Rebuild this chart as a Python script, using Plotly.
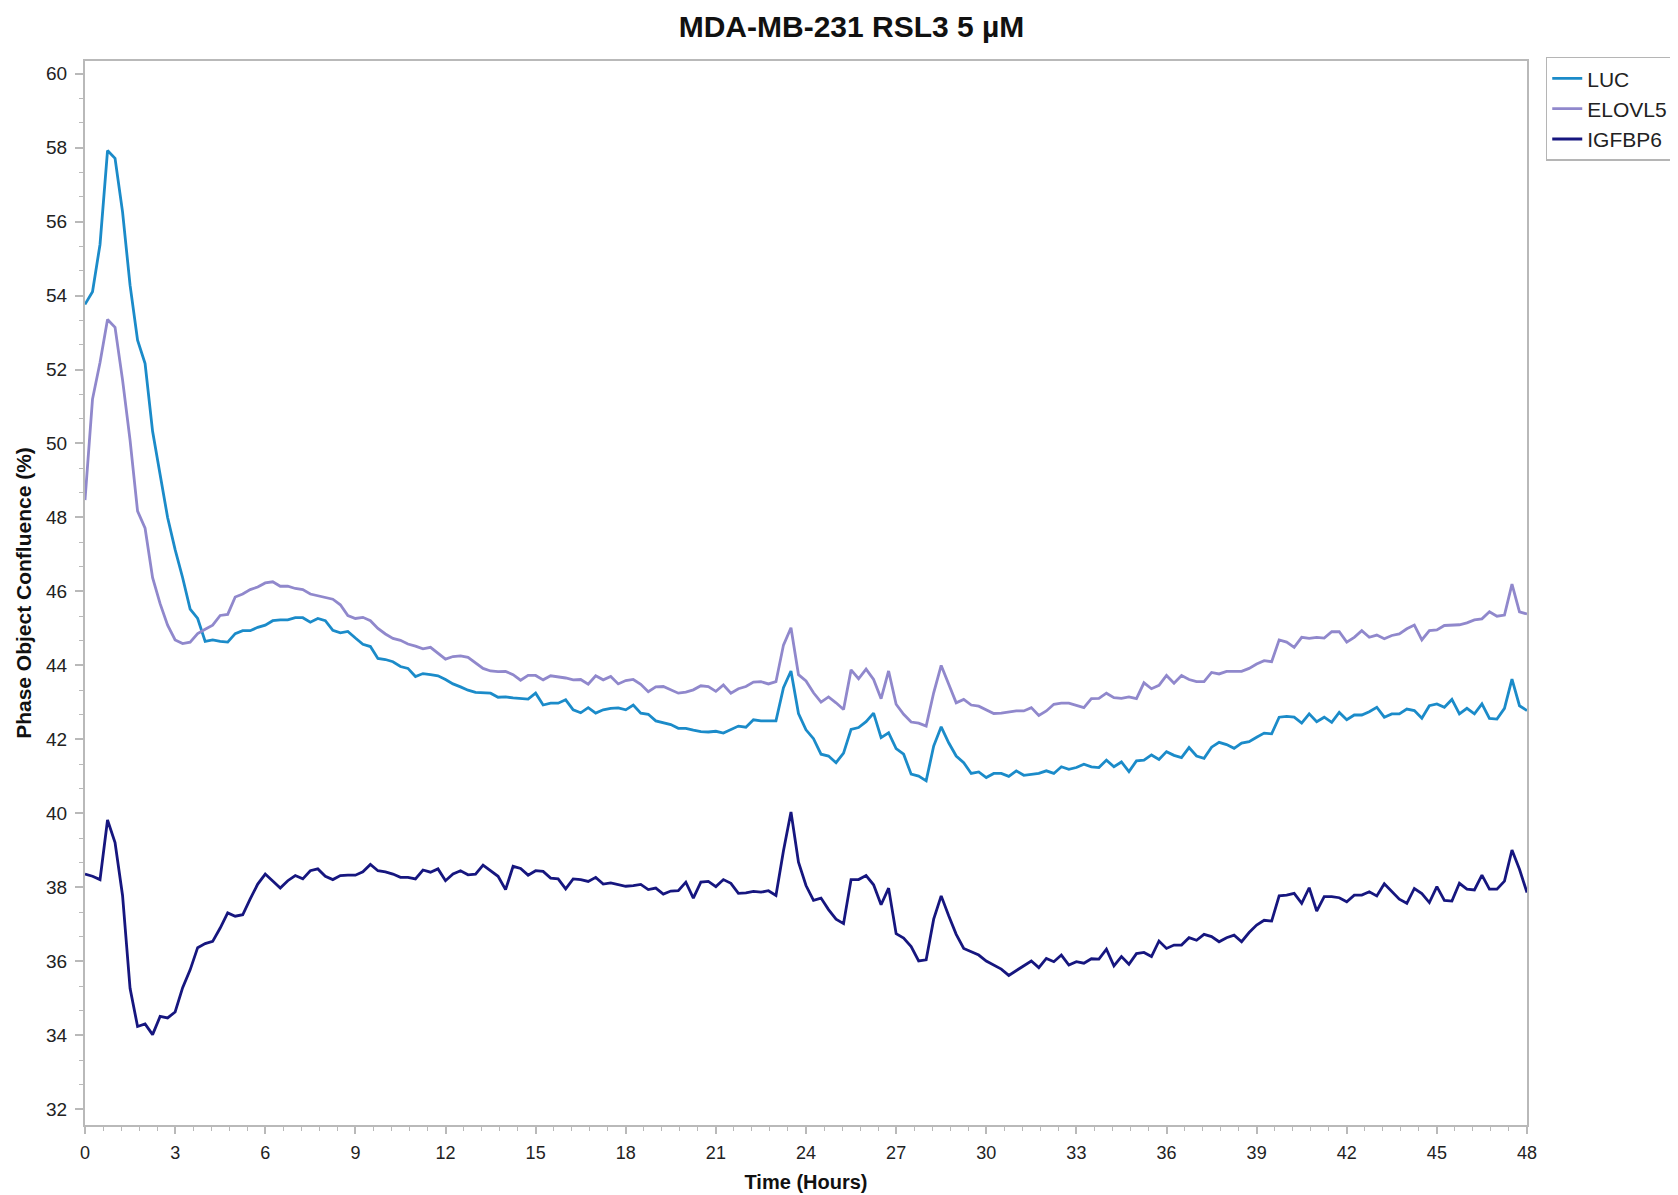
import plotly.graph_objects as go

# Sampling grid: one image every 15 minutes over 48 hours
hours = [i * 0.25 for i in range(193)]

luc = [
    53.76, 54.10, 55.38, 57.92, 57.71, 56.26, 54.28, 52.79, 52.16, 50.33, 49.16, 48.00, 47.13, 46.37, 45.52, 45.27,
    44.65, 44.69, 44.65, 44.63, 44.86, 44.94, 44.94, 45.03, 45.09, 45.21, 45.23, 45.23, 45.29, 45.29, 45.17, 45.27,
    45.21, 44.95, 44.88, 44.92, 44.74, 44.57, 44.51, 44.19, 44.16,
    44.10, 43.97, 43.92, 43.70, 43.78, 43.75, 43.72, 43.62, 43.50, 43.42, 43.33, 43.27, 43.27, 43.25, 43.14, 43.15,
    43.12, 43.10, 43.09, 43.25, 42.93, 42.98, 42.98, 43.07, 42.80, 42.72, 42.86, 42.71, 42.80, 42.84, 42.85, 42.80,
    42.93, 42.71, 42.68, 42.50, 42.45, 42.40, 42.30, 42.30, 42.25, 42.21, 42.20, 42.22, 42.17, 42.26, 42.36, 42.33,
    42.53, 42.50, 42.50, 42.50, 43.40, 43.85, 42.70, 42.26,
    42.02, 41.60, 41.55, 41.37, 41.63, 42.27, 42.32, 42.48, 42.71, 42.05, 42.18, 41.75, 41.60, 41.06, 41.01, 40.88,
    41.82, 42.34, 41.91, 41.55, 41.37, 41.08, 41.12, 40.97, 41.08, 41.08, 41.00, 41.15, 41.03, 41.06, 41.08, 41.15,
    41.08, 41.26, 41.19, 41.24, 41.33, 41.26, 41.24, 41.44, 41.26, 41.39, 41.13, 41.42, 41.44, 41.58, 41.46, 41.67,
    41.57, 41.51, 41.78, 41.55,
    41.49, 41.79, 41.92, 41.86, 41.76, 41.90, 41.94, 42.06, 42.17, 42.15, 42.60, 42.62, 42.60, 42.44, 42.69, 42.48,
    42.60, 42.46, 42.73, 42.53, 42.66, 42.66, 42.75, 42.87, 42.60, 42.69, 42.69, 42.82, 42.78, 42.57, 42.91, 42.96,
    42.87, 43.08, 42.69, 42.84, 42.69, 42.96, 42.57, 42.55, 42.84, 43.63, 42.91, 42.78,
]

elovl5 = [
    48.47, 51.20, 52.19, 53.35, 53.14, 51.72, 50.09, 48.17, 47.71, 46.37, 45.67, 45.09, 44.69, 44.59, 44.63, 44.86,
    44.98, 45.09, 45.35, 45.38, 45.85, 45.93, 46.05, 46.12, 46.23, 46.26, 46.14, 46.14, 46.08, 46.05, 45.93, 45.88,
    45.85, 45.79, 45.64, 45.35, 45.27, 45.30, 45.21, 45.00, 44.85,
    44.73, 44.68, 44.58, 44.52, 44.45, 44.49, 44.32, 44.17, 44.24, 44.26, 44.22, 44.06, 43.92, 43.85, 43.83, 43.84,
    43.75, 43.60, 43.73, 43.73, 43.61, 43.72, 43.69, 43.66, 43.61, 43.62, 43.49, 43.72, 43.61, 43.70, 43.50, 43.59,
    43.62, 43.49, 43.29, 43.42, 43.43, 43.35, 43.25, 43.28, 43.34, 43.45, 43.43, 43.30, 43.47, 43.25, 43.37, 43.43,
    43.55, 43.56, 43.50, 43.56, 44.55, 45.02, 43.75, 43.58,
    43.26, 43.01, 43.15, 42.99, 42.81, 43.88, 43.64, 43.90, 43.62, 43.10, 43.85, 42.95, 42.68, 42.47, 42.44, 42.36,
    43.26, 44.00, 43.49, 42.99, 43.08, 42.93, 42.90, 42.81, 42.70, 42.71, 42.74, 42.77, 42.77, 42.86, 42.65, 42.77,
    42.95, 42.98, 42.98, 42.92, 42.86, 43.10, 43.11, 43.25, 43.13, 43.11, 43.15, 43.10, 43.53, 43.37, 43.46, 43.73,
    43.52, 43.73, 43.62, 43.56,
    43.56, 43.81, 43.77, 43.84, 43.84, 43.84, 43.92, 44.04, 44.13, 44.10, 44.69, 44.63, 44.49, 44.76, 44.73, 44.76,
    44.74, 44.91, 44.91, 44.63, 44.76, 44.94, 44.76, 44.82, 44.72, 44.81, 44.85, 44.99, 45.09, 44.69, 44.94, 44.96,
    45.08, 45.08, 45.10, 45.15, 45.23, 45.26, 45.45, 45.33, 45.36, 46.20, 45.45, 45.39,
]

igfbp6 = [
    38.36, 38.30, 38.21, 39.82, 39.21, 37.78, 35.27, 34.24, 34.31, 34.02, 34.51, 34.47, 34.63, 35.29, 35.77, 36.37,
    36.48, 36.54, 36.90, 37.31, 37.22, 37.26, 37.69, 38.09, 38.36, 38.16, 37.98, 38.18, 38.32, 38.23, 38.45, 38.50,
    38.30, 38.21, 38.32, 38.33, 38.33, 38.42, 38.62, 38.45, 38.42, 38.36, 38.27, 38.27, 38.23, 38.47, 38.41, 38.50,
    38.18, 38.36, 38.45, 38.34, 38.36, 38.60, 38.44,
    38.30, 37.94, 38.57, 38.51, 38.33, 38.45, 38.43, 38.25, 38.23, 37.96, 38.23, 38.21, 38.16, 38.27, 38.09, 38.12,
    38.07, 38.03, 38.05, 38.08, 37.94, 37.98, 37.82, 37.90, 37.91, 38.14, 37.71, 38.14, 38.16, 38.02, 38.21, 38.11,
    37.84, 37.85, 37.89, 37.87, 37.91, 37.78, 38.99, 40.04, 38.68, 38.05, 37.65, 37.71, 37.40, 37.14, 37.02, 38.21,
    38.21, 38.32, 38.07, 37.53, 37.98, 36.75, 36.63,
    36.40, 36.01, 36.04, 37.14, 37.77, 37.23, 36.73, 36.35, 36.26, 36.17, 36.01, 35.91, 35.79, 35.62, 35.75, 35.86,
    36.01, 35.83, 36.08, 35.99, 36.17, 35.90, 35.99, 35.95, 36.07, 36.06, 36.33, 35.88, 36.13, 35.92, 36.21, 36.24,
    36.13, 36.55, 36.35, 36.44, 36.44, 36.64, 36.57, 36.73, 36.67, 36.53, 36.64, 36.71, 36.53, 36.78, 36.98, 37.11,
    37.09, 37.77, 37.79, 37.84, 37.57, 37.99, 37.36, 37.75, 37.75, 37.72, 37.61, 37.79, 37.79, 37.88, 37.77, 38.10,
    37.90, 37.68, 37.57, 37.97, 37.83, 37.59, 38.02, 37.65, 37.63, 38.11, 37.95, 37.93, 38.33, 37.95, 37.95, 38.17,
    39.01, 38.49, 37.86,
]

series_names = ["LUC", "ELOVL5", "IGFBP6"]
series_values = [luc, elovl5, igfbp6]
series_colors = ["#1b8bc9", "#9088cc", "#16167f"]

FONT = "Liberation Sans, Arial, sans-serif"
AXIS_GRAY = "#b9b9b9"

fig = go.Figure()
for name, vals, color in zip(series_names, series_values, series_colors):
    fig.add_trace(go.Scatter(x=hours, y=vals, mode="lines", name=name,
                             line=dict(color=color, width=2.8)))

fig.update_layout(
    width=1678, height=1195, autosize=False,
    margin=dict(l=77, r=154, t=53, b=78),
    paper_bgcolor="white", plot_bgcolor="white",
    font=dict(family=FONT, color="#222222"),
    title=dict(text="<b>MDA-MB-231 RSL3 5 µM</b>", x=0.5027, xanchor="center",
               xref="container", y=1 - 8 / 1195, yanchor="top", yref="container",
               font=dict(size=30, family=FONT, color="#111111")),
    legend=dict(x=1.013, xanchor="left", y=1.004, yanchor="top",
                bordercolor="#b5b5b5", borderwidth=1.5, bgcolor="white",
                font=dict(size=21, family=FONT, color="#222222"),
                itemwidth=30, tracegroupgap=0),
    showlegend=True,
)

fig.update_xaxes(
    range=[0, 48], tick0=0, dtick=3, ticks="outside", ticklen=7, tickwidth=1.5,
    tickcolor=AXIS_GRAY, showline=True, linecolor=AXIS_GRAY, linewidth=2, mirror=True,
    showgrid=False, zeroline=False, tickfont=dict(size=18, family=FONT, color="#222222"),
    ticklabelstandoff=3,
    title=dict(text="<b>Time (Hours)</b>", font=dict(size=20, family=FONT, color="#111111"), standoff=13),
    minor=dict(tick0=0, dtick=0.6, ticks="outside", ticklen=4, tickcolor=AXIS_GRAY, tickwidth=1.2, showgrid=False),
)
fig.update_yaxes(
    range=[31.576, 60.34], tick0=0, dtick=2, ticks="outside", ticklen=8, tickwidth=1.5,
    tickcolor=AXIS_GRAY, showline=True, linecolor=AXIS_GRAY, linewidth=2, mirror=True,
    showgrid=False, zeroline=False, tickfont=dict(size=19, family=FONT, color="#222222"),
    ticklabelstandoff=4,
    title=dict(text="<b>Phase Object Confluence (%)</b>", font=dict(size=21, family=FONT, color="#111111"), standoff=9),
    minor=dict(tick0=32, dtick=2 / 3, ticks="outside", ticklen=4, tickcolor=AXIS_GRAY, tickwidth=1.2, showgrid=False),
)

fig.write_html("out.html")
